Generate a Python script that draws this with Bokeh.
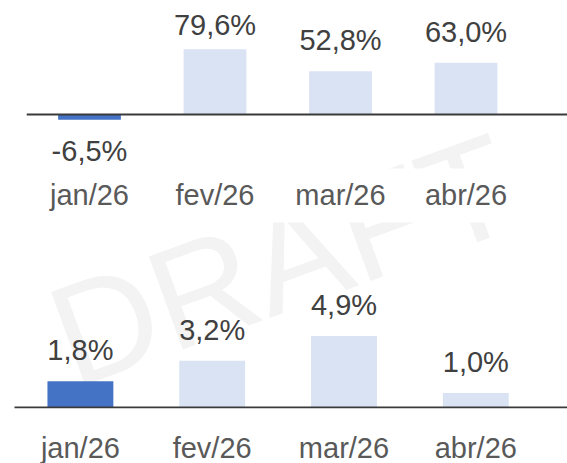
import numpy as np
from bokeh.plotting import figure
from bokeh.models import ColumnDataSource, Range1d, Label, FixedTicker
from bokeh.layouts import column
from bokeh.core.properties import value
from bokeh.embed import file_html
from bokeh.resources import INLINE

# ---------------- data ----------------
months = ["jan/26", "fev/26", "mar/26", "abr/26"]
top_values = [-6.5, 79.6, 52.8, 63.0]
bottom_values = [1.8, 3.2, 4.9, 1.0]
highlight_month = "jan/26"

# ---------------- style ----------------
FONT = "Liberation Sans"
HI_COLOR = "#4472C4"
LO_COLOR = "#DAE3F3"
VAL_COLOR = "#404040"
CAT_COLOR = "#595959"
AXIS_COLOR = "#3a3a3a"
WM_COLOR = "#f3f3f3"
FS = "29px"
BORDER_LEFT = 13
FRAME_W = 554


def fmt(v):
    return f"{v:.1f}%".replace(".", ",")


def panel(vals, band_left, step_px, frame_h, zero_from_top, ppu,
          border_bottom, standoff, top_room_px, wm_page, panel_top_page):
    idx = list(range(len(months)))
    x_start = -0.5 - (band_left - BORDER_LEFT) / step_px
    x_end = x_start + FRAME_W / step_px
    y_end = zero_from_top / ppu
    y_start = -(frame_h - zero_from_top) / ppu
    p = figure(frame_width=FRAME_W, frame_height=frame_h,
               min_border_left=BORDER_LEFT, min_border_right=0,
               min_border_top=0, min_border_bottom=border_bottom,
               x_range=Range1d(x_start, x_end), y_range=Range1d(y_start, y_end),
               y_axis_location=None, toolbar_location=None,
               output_backend="svg", tools="")
    p.outline_line_color = None
    p.background_fill_color = "white"
    p.border_fill_color = "white"
    p.xgrid.visible = False
    p.ygrid.visible = False

    v = np.array(vals, dtype=float)
    clamp = y_end - top_room_px / ppu
    label_y = np.where(v >= 0, np.minimum(v, clamp), v)
    yoff = np.where(v >= 0, -31.0, 31.5)
    colors = [HI_COLOR if m == highlight_month else LO_COLOR for m in months]
    src = ColumnDataSource(dict(x=idx, v=v, ly=label_y, yoff=yoff,
                                label=[fmt(a) for a in v], color=colors))

    # watermark (page coords -> this panel's data coords)
    wx, wy = wm_page
    lab = Label(x=x_start + (wx - BORDER_LEFT) / step_px,
                y=(panel_top_page + zero_from_top - wy) / ppu,
                text="DRAFT", angle=np.deg2rad(20), text_align="center",
                text_baseline="middle", text_font=FONT, text_font_size="144px",
                text_color=WM_COLOR, level="underlay")
    p.add_layout(lab)

    p.vbar(x="x", top="v", bottom=0, width=0.5, fill_color="color",
           line_color=None, source=src)
    p.text(x="x", y="ly", text="label", y_offset="yoff", source=src,
           text_font=value(FONT), text_font_size=FS, text_color=VAL_COLOR,
           text_align="center", text_baseline="alphabetic")
    # zero baseline, from the first category band to the frame's right end
    p.segment(x0=[idx[0] - 0.5], y0=[0], x1=[x_end], y1=[0],
              line_color=AXIS_COLOR, line_width=2)

    ax = p.xaxis[0]
    ax.ticker = FixedTicker(ticks=idx)
    ax.major_label_overrides = {i: m for i, m in zip(idx, months)}
    ax.axis_line_color = None
    ax.major_tick_line_color = None
    ax.minor_tick_line_color = None
    ax.major_label_text_font = FONT
    ax.major_label_text_font_size = FS
    ax.major_label_text_color = CAT_COLOR
    ax.major_label_standoff = standoff
    return p


WM = (282, 260)
p1 = panel(top_values, band_left=26.25, step_px=125.5,
           frame_h=168, zero_from_top=114, ppu=0.82, border_bottom=54,
           standoff=4, top_room_px=55, wm_page=WM, panel_top_page=0)
p2 = panel(bottom_values, band_left=14, step_px=131.8,
           frame_h=186, zero_from_top=185, ppu=14.6, border_bottom=55,
           standoff=17, top_room_px=0, wm_page=WM, panel_top_page=222)

layout = column(p1, p2, spacing=0)
open("out.html", "w").write(file_html(layout, INLINE))
